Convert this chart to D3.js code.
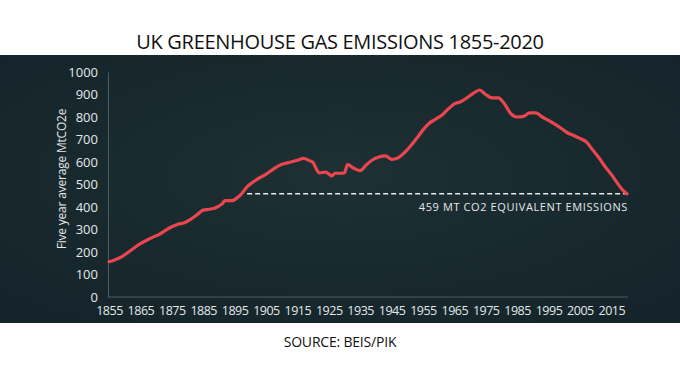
<!DOCTYPE html>
<html>
<head>
<meta charset="utf-8">
<script src="https://cdn.jsdelivr.net/npm/d3@7"></script>
<style>
  body { margin: 0; background: #fff; }
  svg { display: block; }
</style>
</head>
<body>
<div id="chart"></div>
<script>
// five year average emissions
const years = [1855, 1857, 1859, 1861, 1863, 1865, 1867, 1869, 1871, 1873, 1875, 1877, 1879, 1881, 1883,
  1885, 1887, 1889, 1891, 1892, 1894, 1896, 1897, 1899, 1901, 1903, 1905, 1907, 1909, 1911, 1913,
  1915, 1917, 1919, 1920, 1921, 1922, 1924, 1926, 1927, 1929, 1930, 1931, 1933, 1935, 1937, 1939,
  1941, 1943, 1945, 1947, 1949, 1951, 1953, 1955, 1957, 1959, 1961, 1963, 1965, 1967, 1969, 1971,
  1973, 1975, 1977, 1979, 1981, 1983, 1985, 1987, 1989, 1991, 1993, 1995, 1997, 1999, 2001, 2003,
  2005, 2007, 2009, 2011, 2013, 2015, 2017, 2019, 2020];
const emissions = [157, 166, 178, 198, 218, 237, 252, 266, 278, 296, 312, 323, 330, 345, 365,
  386, 390, 397, 414, 428, 428, 443, 455, 490, 512, 530, 545, 565, 583, 593, 600,
  608, 616, 605, 598, 570, 552, 555, 538, 550, 550, 552, 588, 572, 562, 588, 610,
  622, 627, 612, 618, 640, 670, 705, 742, 772, 790, 808, 835, 858, 868, 885, 905,
  920, 900, 885, 885, 858, 815, 800, 803, 818, 818, 800, 785, 768, 750, 730, 718,
  705, 690, 655, 620, 580, 545, 505, 470, 459];
const yTicks = [0, 100, 200, 300, 400, 500, 600, 700, 800, 900, 1000];
const xTicks = [1855, 1865, 1875, 1885, 1895, 1905, 1915, 1925, 1935, 1945, 1955, 1965, 1975, 1985, 1995, 2005, 2015];
const refValue = 459;

let width = 680;
let height = 378;
let font = "'Open Sans', 'Noto Sans', sans-serif";

var svg = d3.select('#chart').append('svg')
  .attr('width', width)
  .attr('height', height);

// dark panel
var defs = svg.append('defs');
var grad = defs.append('radialGradient').attr('id', 'bg')
  .attr('cx', '50%').attr('cy', '45%').attr('r', '70%');
grad.append('stop').attr('offset', '0%').attr('stop-color', '#1e3034');
grad.append('stop').attr('offset', '100%').attr('stop-color', '#14242a');

svg.append('rect')
  .attr('x', 0).attr('y', 55)
  .attr('width', width).attr('height', 268)
  .attr('fill', 'url(#bg)');

// title + source
svg.append('text')
  .attr('x', 340).attr('y', 49)
  .attr('text-anchor', 'middle')
  .attr('font-family', font)
  .attr('font-size', 20)
  .attr('letter-spacing', -0.3)
  .attr('fill', '#111')
  .text('UK GREENHOUSE GAS EMISSIONS 1855-2020');

svg.append('text')
  .attr('x', 340).attr('y', 347)
  .attr('text-anchor', 'middle')
  .attr('font-family', font)
  .attr('font-size', 14)
  .attr('letter-spacing', -0.2)
  .attr('fill', '#111')
  .text('SOURCE: BEIS/PIK');

var x = d3.scaleLinear().domain([1855, 2020]).range([109, 627]);
var y = d3.scaleLinear().domain([0, 1000]).range([297, 72]);

// axes
var yAxis = svg.append('g')
  .attr('transform', 'translate(108,0)')
  .call(d3.axisLeft(y).tickValues(yTicks).tickFormat(d3.format('d')).tickSize(0).tickPadding(10));
yAxis.select('.domain').attr('stroke', '#4c5d60').attr('stroke-width', 1);
yAxis.selectAll('text')
  .attr('font-family', font).attr('font-size', 13)
  .attr('fill', '#e4e8e8');

var xAxis = svg.append('g')
  .attr('transform', 'translate(0,297)')
  .call(d3.axisBottom(x).tickValues(xTicks).tickFormat(d3.format('d')).tickSize(0).tickPadding(9));
xAxis.select('.domain').attr('stroke', '#4c5d60').attr('stroke-width', 1)
  .attr('d', 'M108,0H628');
xAxis.selectAll('text')
  .attr('font-family', font).attr('font-size', 12.5)
  .attr('letter-spacing', -0.5)
  .attr('fill', '#e4e8e8');

svg.append('text')
  .attr('transform', 'translate(66,179) rotate(-90)')
  .attr('text-anchor', 'middle')
  .attr('font-family', font)
  .attr('font-size', 12)
  .attr('letter-spacing', -0.2)
  .attr('fill', '#e4e8e8')
  .text('Five year average MtCO2e');

// reference line at today's level
var data = years.map(function (d, i) { return { year: d, value: emissions[i] }; });
var cross = data.find(function (d) { return d.value >= refValue; });

svg.append('line')
  .attr('x1', x(cross.year)).attr('x2', x(2020))
  .attr('y1', y(refValue)).attr('y2', y(refValue))
  .attr('stroke', '#e8ecec')
  .attr('stroke-width', 1.3)
  .attr('stroke-dasharray', '5,3');

svg.append('text')
  .attr('x', x(2020) + 1).attr('y', y(refValue) + 17)
  .attr('text-anchor', 'end')
  .attr('font-family', font)
  .attr('font-size', 11)
  .attr('letter-spacing', 0.6)
  .attr('fill', '#e4e8e8')
  .text(refValue + ' MT CO2 EQUIVALENT EMISSIONS');

// emissions line
var line = d3.line()
  .x(function (d) { return x(d.year); })
  .y(function (d) { return y(d.value); })
  .curve(d3.curveMonotoneX);

svg.append('path')
  .datum(data)
  .attr('d', line)
  .attr('fill', 'none')
  .attr('stroke', '#ea4650')
  .attr('stroke-width', 3.2)
  .attr('stroke-linejoin', 'round')
  .attr('stroke-linecap', 'round');
</script>
</body>
</html>
